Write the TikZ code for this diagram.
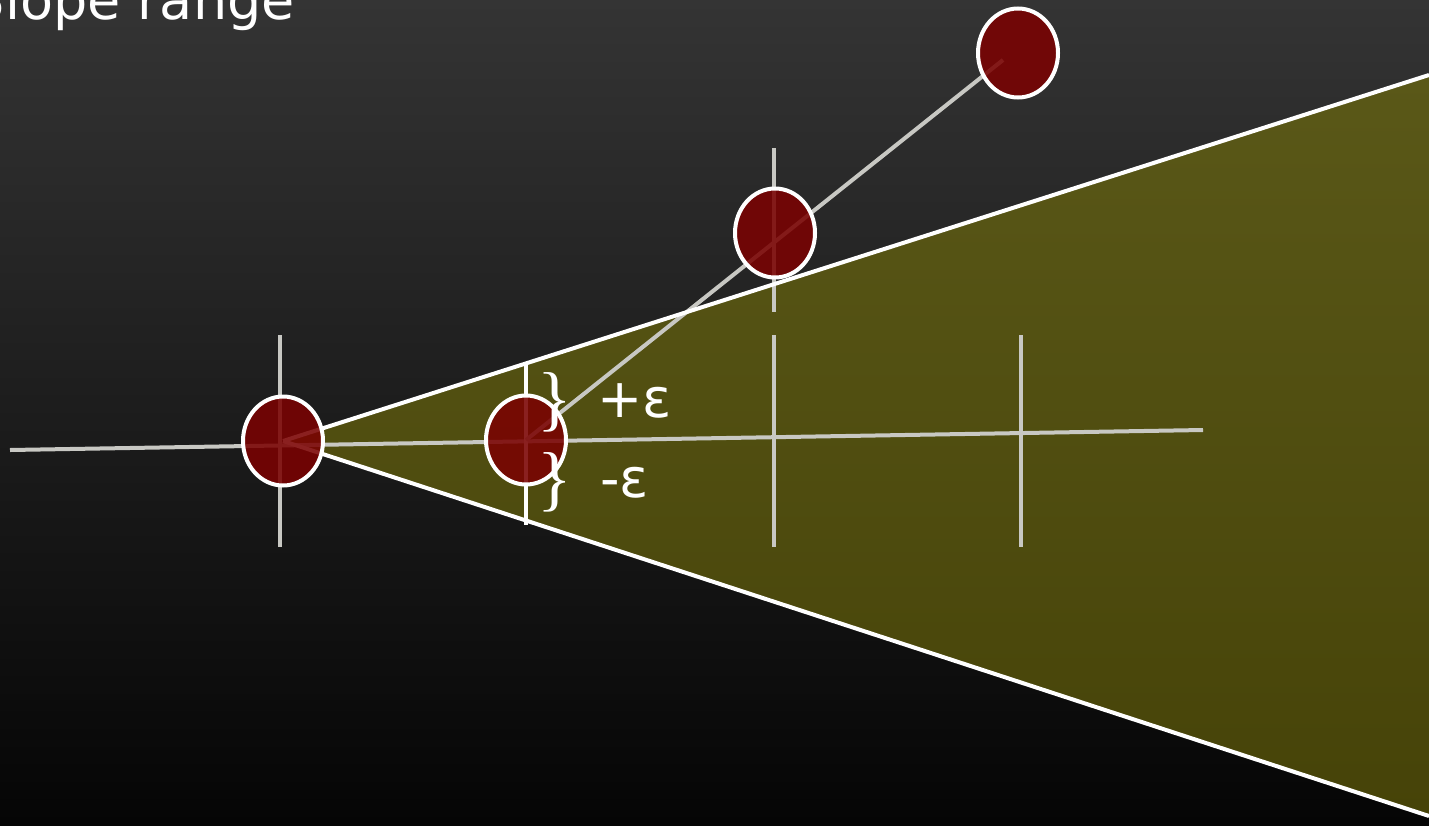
\documentclass[tikz,border=0pt]{standalone}
\usepackage{fontspec}
\setmainfont{DejaVu Sans}
\newfontfamily\bracefont{Liberation Serif}
\usetikzlibrary{shapes.geometric}
\definecolor{bgtop}{RGB}{52,52,52}
\definecolor{bgbot}{RGB}{5,5,5}
\definecolor{conetop}{RGB}{90,88,24}
\definecolor{conebot}{RGB}{70,67,8}
\definecolor{guide}{RGB}{200,200,195}
\definecolor{dotred}{RGB}{122,2,2}
\tikzset{
  guideline/.style={draw=guide,line width=4pt},
  edgeline/.style={draw=white,line width=4pt},
  dot/.style={ellipse,minimum width=80pt,minimum height=89pt,inner sep=0pt,
    fill=dotred,fill opacity=0.88,draw=white,draw opacity=1,line width=4pt},
  lab/.style={text=white,inner sep=0pt,font=\fontsize{54}{60}\selectfont},
  brace/.style={text=white,inner sep=0pt,font=\bracefont\fontsize{72}{72}\selectfont}
}
\begin{document}
\begin{tikzpicture}[x=1pt,y=-1pt]
\useasboundingbox (0,0) rectangle (1429,825);
\clip (0,0) rectangle (1429,825);
\shade[top color=bgtop,bottom color=bgbot] (0,0) rectangle (1429,825);
% cone
\coordinate (apex) at (283,441);
\coordinate (ctop) at (1429,75);
\coordinate (cbot) at (1429,816);
\shade[top color=conetop,bottom color=conebot] (apex) -- (ctop) -- (cbot) -- cycle;
% guide lines
\coordinate (hl) at (10,450);
\coordinate (hr) at (1203,430);
\draw[guideline] (hl) -- (hr);
\coordinate (t1a) at (280,335); \coordinate (t1b) at (280,547);
\coordinate (t3a) at (774,335); \coordinate (t3b) at (774,547);
\coordinate (t4a) at (1021,335); \coordinate (t4b) at (1021,547);
\coordinate (t5a) at (774,148); \coordinate (t5b) at (774,312);
\draw[guideline] (t1a) -- (t1b);
\draw[guideline] (t3a) -- (t3b);
\draw[guideline] (t4a) -- (t4b);
\draw[guideline] (t5a) -- (t5b);
\coordinate (t2a) at (526,365); \coordinate (t2b) at (526,525);
\draw[edgeline] (t2a) -- (t2b);
\coordinate (dstart) at (526,440);
\coordinate (dend) at (1003,60);
\draw[guideline] (dstart) -- (dend);
% cone edges
\draw[edgeline] (apex) -- (ctop);
\draw[edgeline] (apex) -- (cbot);
% dots
\node[dot] (c1) at (283,441) {};
\node[dot] (c2) at (526,440) {};
\node[dot] (c3) at (775,233) {};
\node[dot] (c4) at (1018,53) {};
% labels
\node[lab,anchor=base east] (title) at (295,19) {Slope range};
\node[brace] (b1) at (555,402) {\}};
\node[brace] (b2) at (555,482) {\}};
\node[lab,anchor=base west] (pe) at (597,417) {+ε};
\node[lab,anchor=base west] (me) at (600,497) {-ε};
\end{tikzpicture}
\end{document}
